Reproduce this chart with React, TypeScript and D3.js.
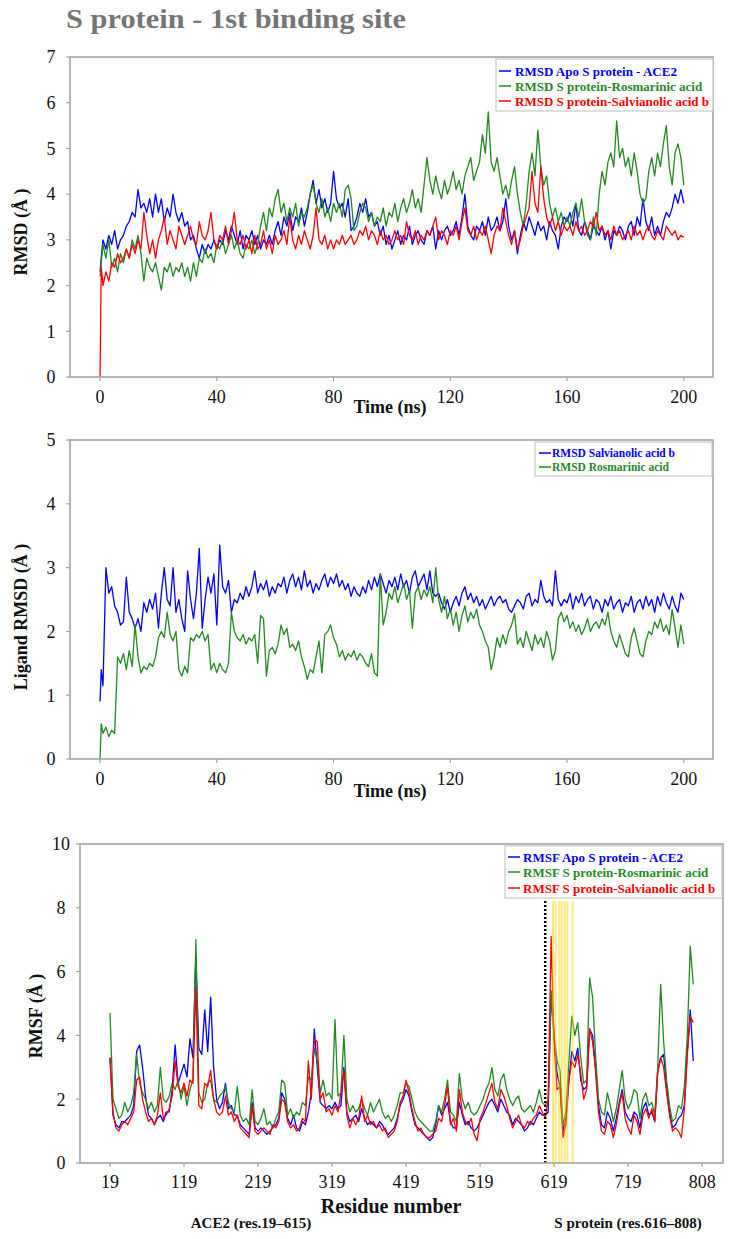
import React from "react";
import * as d3 from "d3";

const serif = "'Liberation Serif','Times New Roman',serif";
const BLUE = "#0000ff";
const GREEN = "#1f8a1f";
const RED = "#ff0000";

// ---------- Panel 1 & 2 : time axis (ns) ----------
const timeNs = [0, 0.4, ...d3.range(1, 201)];
const timeTicks = [0, 40, 80, 120, 160, 200];

const rmsdApo = [2.3, 2.6,
  3.0, 2.8, 3.1, 2.9, 3.2, 2.8, 3.0, 3.1, 3.3, 3.4,
  3.6, 3.5, 4.1, 3.7, 3.8, 3.6, 3.9, 3.5, 4.0, 3.6,
  3.9, 3.4, 3.7, 3.5, 4.0, 3.6, 3.4, 3.6, 3.3, 3.4,
  3.0, 3.1, 2.8, 2.6, 2.9, 2.7, 2.9, 2.8, 3.0, 2.8,
  3.0, 2.9, 3.2, 3.0, 3.3, 3.1, 2.9, 3.2, 2.8, 3.1,
  3.0, 3.2, 2.9, 3.1, 2.8, 3.0, 2.9, 3.1, 2.9, 3.2,
  3.4, 3.1, 3.5, 3.3, 3.6, 3.2, 3.5, 3.4, 3.7, 3.3,
  3.6, 4.0, 4.3, 3.8, 4.1, 3.7, 3.9, 3.6, 3.8, 4.5,
  3.9, 3.7, 3.8, 3.5, 3.9, 3.2, 3.3, 3.5, 3.8, 3.6,
  3.9, 3.5, 3.6, 3.3, 3.4, 3.1, 3.3, 2.9, 3.1, 2.8,
  3.0, 3.2, 2.9, 3.1, 3.0, 3.3, 2.9, 3.1, 3.2, 3.0,
  2.9, 3.2, 3.1, 3.3, 2.8, 3.2, 3.0, 3.2, 3.3, 3.1,
  3.2, 3.4, 3.1, 3.5, 4.0, 3.3, 3.1, 3.0, 3.3, 3.2,
  3.4, 3.1, 3.5, 3.2, 3.3, 3.5, 3.2, 3.4, 3.9, 3.3,
  3.0, 3.2, 2.7, 3.1, 3.4, 3.2, 3.5, 3.3, 3.1, 3.4,
  3.2, 3.3, 3.0, 3.4, 3.2, 3.1, 2.8, 3.3, 3.5, 3.4,
  3.6, 3.3, 3.8, 3.2, 3.1, 3.4, 3.2, 3.0, 3.3, 3.2,
  3.1, 3.3, 3.0, 3.2, 2.8, 3.2, 3.1, 3.3, 3.2, 3.0,
  3.3, 3.4, 3.1, 3.5, 3.3, 3.9, 3.4, 3.2, 3.5, 3.1,
  3.3, 3.1, 3.4, 3.6, 3.5, 3.7, 4.0, 3.8, 4.1, 3.8];

const rmsdRos = [2.2, 2.5,
  2.9, 2.6, 3.0, 2.4, 2.6, 2.3, 2.7, 2.5, 2.8, 2.6,
  3.0, 2.8, 3.1, 2.7, 2.1, 2.6, 2.4, 2.3, 2.5, 2.2,
  1.9, 2.4, 2.3, 2.5, 2.2, 2.4, 2.3, 2.5, 2.2, 2.4,
  2.1, 2.5, 2.2, 2.6, 2.5, 2.8, 2.6, 2.7, 2.5, 2.9,
  2.8, 3.0, 2.7, 2.9, 3.1, 2.8, 3.0, 2.7, 2.6, 2.9,
  2.8, 3.0, 2.7, 2.9, 3.3, 3.6, 3.2, 3.7, 3.5, 3.9,
  4.1, 3.6, 3.8, 3.4, 3.7, 3.5, 3.8, 3.3, 3.6, 3.5,
  3.7, 4.0, 4.2, 3.8, 3.6, 3.9, 3.5, 3.7, 3.4, 3.8,
  3.6, 3.8, 3.5, 4.1, 4.2, 3.9, 3.2, 3.3, 3.6, 3.8,
  3.7, 3.4, 3.6, 3.3, 3.5, 3.4, 3.7, 3.3, 3.6, 3.5,
  3.8, 3.4, 3.7, 3.9, 3.6, 3.8, 4.1, 3.7, 3.9, 3.6,
  4.2, 4.8, 4.3, 4.0, 4.4, 4.1, 3.9, 4.3, 4.0, 4.2,
  4.5, 4.1, 4.3, 4.0, 4.4, 4.6, 4.8, 4.3, 4.5, 4.7,
  5.3, 4.9, 5.8, 4.7, 4.5, 4.8, 4.4, 4.0, 4.2, 3.9,
  4.3, 4.6, 4.0, 3.6, 3.3, 3.8, 4.5, 4.9, 4.4, 5.4,
  4.6, 4.2, 4.4, 3.8, 3.5, 3.7, 3.4, 3.6, 3.3, 3.5,
  3.3, 3.6, 3.8, 3.5, 3.9, 3.4, 3.1, 3.0, 3.5, 3.1,
  4.0, 4.5, 4.2, 4.7, 4.9, 4.6, 5.6, 4.8, 5.0, 4.6,
  4.8, 4.4, 4.9, 4.5, 4.0, 3.8, 3.9, 4.5, 4.8, 4.4,
  4.9, 4.6, 5.1, 5.5, 4.6, 4.2, 4.9, 5.1, 4.8, 4.2];

const rmsdSal = [0, 2.4,
  2.0, 2.3, 2.1, 2.5, 2.4, 2.7, 2.5, 2.6, 2.8, 2.6,
  2.9, 2.7, 3.0, 2.8, 3.6, 3.1, 2.7, 3.0, 2.6, 3.0,
  3.2, 3.5, 2.9, 3.2, 3.0, 2.8, 3.3, 3.1, 2.9, 3.1,
  3.3, 3.0, 2.9, 3.4, 3.1, 3.0, 3.2, 3.6, 3.0, 2.8,
  3.1, 3.0, 3.3, 2.9, 3.2, 3.6, 3.0, 2.9, 3.1, 2.8,
  3.0, 2.7, 3.1, 2.8, 2.9, 3.2, 2.8, 3.0, 2.7, 3.1,
  2.9, 3.0, 3.2, 2.9, 3.5, 3.0, 2.8, 3.1, 2.9, 3.2,
  3.0, 2.8, 3.1, 3.7, 3.0, 2.9, 3.1, 2.8, 3.0, 2.8,
  3.0, 2.9, 3.1, 2.9, 3.0, 3.1, 2.9, 3.0, 3.2, 3.1,
  3.3, 3.0, 3.2, 3.1, 2.9, 3.2, 3.0, 3.1, 2.9, 3.0,
  3.2, 3.0, 3.1, 2.9, 3.4, 3.1, 3.0, 3.2, 2.9, 3.1,
  3.0, 3.2, 3.1, 3.3, 3.5, 3.0, 3.2, 3.1, 2.9, 3.2,
  3.1, 3.3, 3.0, 3.4, 3.7, 3.2, 3.1, 3.3, 3.0, 3.2,
  3.1, 3.3, 3.0, 2.7, 3.1, 3.3, 3.2, 3.7, 3.4, 3.1,
  2.9, 3.2, 2.8, 3.0, 3.3, 3.5, 3.7, 4.5, 3.8, 3.6,
  4.6, 3.9, 3.5, 3.3, 3.5, 3.2, 3.4, 3.1, 3.3, 3.2,
  3.3, 3.1, 3.4, 3.2, 3.3, 3.1, 3.2, 3.4, 3.3, 3.6,
  3.2, 3.3, 3.1, 3.2, 3.0, 3.3, 3.1, 3.2, 3.0, 3.1,
  3.2, 3.0, 3.3, 3.1, 3.2, 3.0, 3.2, 3.3, 3.1, 3.0,
  3.2, 3.1, 3.0, 3.3, 3.2, 3.1, 3.2, 3.0, 3.1, 3.05];

const ligandSal = [0.9, 1.4,
  1.15, 3.0, 2.6, 2.7, 2.4, 2.3, 2.1, 2.15, 2.85, 2.3,
  2.2, 2.05, 2.2, 2.0, 2.45, 2.3, 2.5, 2.35, 2.6, 2.05,
  2.6, 3.0, 2.5, 2.4, 3.0, 2.3, 2.5, 2.2, 2.0, 2.95,
  2.5, 2.2, 2.6, 3.3, 2.05, 2.5, 2.85, 2.6, 2.9, 2.1,
  3.35, 2.7, 2.6, 2.8, 2.3, 2.5, 2.45, 2.6, 2.5, 2.7,
  2.55, 2.7, 2.95, 2.6, 2.75, 2.65, 2.8, 2.55, 2.7, 2.6,
  2.75, 2.7, 2.85, 2.6, 2.8, 2.9, 2.7, 2.85, 2.65, 2.95,
  2.7, 2.8, 2.6, 2.75, 2.65, 2.8, 2.9, 2.7, 2.85, 2.75,
  2.9, 2.7, 2.8, 2.65, 2.75, 2.55, 2.7, 2.6, 2.55, 2.7,
  2.6, 2.8, 2.65, 2.85, 2.7, 2.9, 2.75, 2.6, 2.8, 2.7,
  2.85, 2.65, 2.9, 2.7, 2.8, 2.6, 2.85, 2.95, 2.7, 2.8,
  2.9, 2.65, 2.95, 2.6, 2.55, 2.6, 2.45, 2.35, 2.5, 2.3,
  2.45, 2.55, 2.4, 2.6, 2.7, 2.5, 2.6, 2.45, 2.55, 2.4,
  2.5, 2.35, 2.45, 2.55, 2.4, 2.5, 2.55, 2.45, 2.5, 2.35,
  2.3, 2.4, 2.5, 2.45, 2.35, 2.55, 2.6, 2.4, 2.5, 2.45,
  2.8, 2.55, 2.45, 2.5, 2.4, 2.95, 2.5, 2.4, 2.5, 2.45,
  2.6, 2.35, 2.55, 2.45, 2.6, 2.4, 2.5, 2.55, 2.35, 2.5,
  2.45, 2.3, 2.5, 2.4, 2.55, 2.35, 2.45, 2.5, 2.3, 2.45,
  2.4, 2.55, 2.3, 2.45, 2.5, 2.35, 2.55, 2.4, 2.5, 2.3,
  2.55, 2.4, 2.6, 2.45, 2.35, 2.55, 2.4, 2.3, 2.6, 2.5];

const ligandRos = [0, 0.55,
  0.4, 0.5, 0.35, 0.45, 0.4, 1.6, 1.5, 1.65, 1.4, 1.7,
  1.45, 2.1, 1.6, 1.35, 1.45, 1.4, 1.5, 1.45, 1.6, 1.9,
  2.0, 1.9, 2.3, 1.95, 1.85, 2.0, 1.4, 1.3, 1.45, 1.35,
  1.9, 1.85, 1.95, 1.9, 2.0, 1.85, 1.95, 1.4, 1.5, 1.35,
  1.5, 1.4, 1.35, 1.5, 2.3, 2.0, 1.9, 1.85, 1.95, 1.8,
  1.9, 1.85, 1.95, 1.5, 2.25, 2.2, 1.3, 1.7, 1.75, 1.65,
  1.8, 2.1, 1.95, 2.05, 1.75, 1.8, 1.7, 1.85, 1.6, 1.45,
  1.25, 1.4, 1.35, 1.6, 1.85, 1.35, 1.95, 2.0, 2.1, 1.9,
  1.8, 1.6, 1.7, 1.55, 1.65, 1.6, 1.7, 1.55, 1.65, 1.6,
  1.5, 1.45, 1.65, 1.35, 1.3, 2.9, 2.1, 2.3, 2.6, 2.5,
  2.7, 2.45, 2.6, 2.75, 2.5, 2.65, 2.05, 2.6, 2.7, 2.5,
  2.65, 2.55, 2.7, 2.45, 3.0, 2.5, 2.3, 2.55, 2.2, 2.35,
  2.1, 2.3, 2.0, 2.25, 2.4, 2.15, 2.3, 2.2, 2.35, 2.1,
  2.0, 1.85, 1.75, 1.4, 1.6, 1.9, 1.75, 1.95, 1.8, 2.0,
  2.1, 2.28, 1.8, 1.9, 1.75, 2.0, 1.85, 1.7, 1.95, 1.8,
  1.9, 1.75, 2.0, 1.85, 1.55, 1.7, 2.2, 2.3, 2.15, 2.25,
  2.05, 2.15, 2.0, 2.1, 1.95, 2.05, 2.2, 2.0, 2.1, 2.15,
  2.05, 2.2, 2.1, 2.3, 2.0, 1.85, 1.75, 1.95, 1.8, 1.65,
  1.6, 1.9, 2.05, 1.85, 1.65, 1.6, 1.85, 2.0, 1.95, 2.15,
  2.05, 2.2, 2.0, 2.1, 1.95, 2.34, 2.05, 1.75, 2.1, 1.8];

// ---------- Panel 3 : residues ----------
const residues = d3.range(19, 808, 4);
const residueTicks = [19, 119, 219, 319, 419, 519, 619, 719, 819];
const residueTickLabels = ["19", "119", "219", "319", "419", "519", "619", "719", "808"];
const boundaryResidue = 607;
const bindingResidues = [617.5, 620.9, 626.0, 629.3, 633.4, 636.9, 644.2];

const rmsfApo = [
  3.3, 1.5, 1.2, 1.1, 1.3, 1.3, 1.4, 1.5, 1.8, 3.5,
  3.7, 3.0, 2.1, 1.5, 1.4, 1.2, 1.4, 1.5, 1.3, 1.6,
  1.6, 2.3, 3.7, 2.5, 2.8, 3.1, 2.7, 3.9, 3.3, 6.5,
  3.6, 3.4, 4.8, 3.5, 5.2, 3.0, 2.0, 1.7, 1.9, 2.5,
  1.7, 1.8, 1.5, 1.5, 1.2, 1.1, 1.0, 0.9, 1.9, 1.1,
  1.0, 1.1, 1.0, 0.9, 1.0, 1.1, 1.2, 1.4, 2.2, 2.0,
  1.4, 1.2, 1.5, 1.1, 1.0, 1.3, 1.2, 1.6, 2.2, 4.2,
  3.0, 1.9, 1.8, 1.7, 1.8, 1.7, 1.9, 1.7, 1.8, 3.0,
  1.6, 1.3, 1.4, 1.5, 1.3, 1.7, 1.4, 1.2, 1.3, 1.2,
  1.1, 1.3, 1.2, 1.0, 0.9, 1.0, 1.1, 1.4, 1.8, 2.0,
  2.3, 2.1, 1.6, 1.2, 1.1, 1.0, 0.9, 0.8, 0.7, 0.8,
  1.2, 1.8, 1.5, 1.7, 1.9, 1.3, 1.1, 1.1, 1.9, 1.5,
  1.2, 1.3, 1.1, 1.0, 1.1, 1.3, 1.5, 1.7, 1.9, 2.0,
  1.8, 1.6, 2.0, 1.8, 1.6, 1.5, 1.2, 1.4, 1.3, 1.2,
  1.0, 1.1, 1.3, 1.2, 1.4, 1.6, 1.5, 1.5, 1.6, 5.3,
  3.9, 2.8, 2.4, 1.0, 1.4, 2.6, 3.5, 3.2, 3.6, 2.6,
  2.3, 2.4, 4.2, 4.0, 3.0, 1.8, 1.2, 1.1, 1.6, 1.4,
  1.0, 1.4, 1.9, 2.3, 1.6, 1.4, 1.3, 1.6, 1.5, 1.1,
  1.7, 1.9, 1.5, 1.6, 1.3, 2.9, 3.3, 3.4, 2.4, 1.6,
  1.1, 1.2, 1.4, 1.5, 1.8, 3.5, 4.8, 3.2];

const rmsfRos = [
  4.7, 2.0, 1.7, 1.4, 1.5, 1.9, 1.6, 1.8, 2.2, 3.4,
  2.5, 2.2, 2.0, 1.7, 1.9, 1.6, 1.8, 3.0, 2.0, 1.9,
  2.1, 2.5, 2.3, 2.6, 2.0, 2.4, 1.8, 2.3, 2.6, 7.0,
  2.2, 1.9, 2.0, 2.5, 2.6, 2.0, 1.9, 2.1, 2.2, 2.4,
  1.9, 1.7, 1.6, 2.4, 1.5, 1.3, 1.4, 1.2, 2.3, 1.3,
  1.2, 1.4, 1.7, 1.2, 1.3, 1.1, 1.4, 1.6, 2.6, 2.5,
  1.5, 1.7, 1.4, 1.6, 1.5, 1.9, 1.8, 2.7, 2.6, 3.6,
  3.2, 2.2, 2.6, 2.1, 2.2, 2.0, 4.5, 2.1, 2.2, 4.0,
  2.0, 1.6, 1.8, 1.6, 1.7, 2.0, 1.7, 1.5, 1.9, 1.6,
  1.8, 2.0, 1.6, 1.4, 1.5, 1.3, 1.5, 1.8, 2.2, 2.2,
  2.5, 2.4, 2.0, 1.6, 1.4, 1.3, 1.2, 1.1, 1.0, 1.0,
  1.3, 1.8, 1.6, 2.0, 2.6, 1.6, 1.5, 1.3, 2.8, 2.0,
  1.7, 1.9, 1.6, 1.5, 1.6, 1.8, 2.0, 2.3, 2.5, 3.0,
  2.3, 2.1, 2.6, 2.8, 2.3, 2.0, 1.8, 2.0, 2.1, 1.7,
  1.6, 1.7, 1.8, 1.6, 1.9, 2.3, 1.9, 1.8, 2.0, 5.4,
  4.0, 3.2, 2.9, 1.2, 1.6, 3.2, 4.6, 4.0, 4.4, 3.3,
  2.5, 2.6, 5.8, 5.2, 3.4, 2.0, 1.6, 1.5, 2.2, 1.8,
  1.3, 1.7, 2.3, 2.9, 2.0, 1.7, 1.9, 2.3, 2.2, 1.4,
  2.0, 2.2, 1.8, 1.9, 1.5, 3.0, 5.6, 3.8, 2.6, 1.8,
  1.3, 1.4, 1.8, 1.7, 2.4, 4.0, 6.8, 5.6];

const rmsfSal = [
  3.3, 1.6, 1.1, 1.0, 1.2, 1.3, 1.2, 1.4, 1.6, 2.6,
  2.7, 2.0, 1.6, 1.3, 1.4, 1.2, 1.5, 2.2, 1.4, 1.5,
  1.7, 2.1, 3.2, 2.4, 2.2, 2.5, 2.1, 2.6, 2.5, 5.5,
  1.8, 1.7, 2.5, 2.4, 2.9, 2.0, 1.6, 1.5, 1.6, 2.1,
  1.5, 1.6, 1.3, 1.5, 1.1, 1.0, 0.9, 0.8, 1.8, 1.0,
  0.9, 1.0, 1.1, 1.0, 0.9, 1.2, 1.1, 1.3, 2.0, 1.9,
  1.3, 1.1, 1.2, 1.0, 1.1, 1.4, 1.3, 3.2, 2.0, 3.9,
  3.8, 2.0, 2.2, 1.6, 1.7, 1.5, 1.8, 1.6, 2.2, 2.9,
  1.5, 1.1, 1.4, 1.2, 1.4, 2.1, 1.3, 1.5, 1.2, 1.3,
  1.1, 1.2, 1.0, 1.1, 0.8, 0.9, 1.0, 1.3, 1.9, 2.1,
  2.6, 2.2, 1.7, 1.3, 1.0, 1.1, 0.9, 0.8, 0.8, 0.9,
  1.0, 1.4, 1.3, 1.8, 2.4, 1.2, 1.4, 1.0, 2.3, 1.6,
  1.3, 1.2, 1.4, 0.9, 0.7, 1.4, 1.6, 1.9, 2.2, 2.5,
  1.9, 1.7, 2.3, 2.1, 1.8, 1.4, 1.1, 1.3, 1.5, 1.2,
  1.1, 1.3, 1.2, 1.4, 1.5, 1.8, 1.6, 1.4, 2.0, 7.1,
  3.8, 2.3, 2.4, 0.8, 1.2, 2.6, 3.2, 3.0, 3.4, 2.8,
  2.0, 2.3, 4.2, 3.8, 2.9, 1.6, 1.0, 0.9, 1.3, 1.2,
  0.8, 1.2, 1.8, 2.2, 1.4, 1.1, 0.9, 1.5, 1.3, 0.9,
  1.5, 1.7, 1.4, 1.7, 1.3, 2.8, 3.3, 3.0, 2.2, 1.5,
  1.0, 1.1, 1.0, 0.8, 1.7, 3.4, 4.6, 4.4];

type Series = { values: number[]; color: string };
type LegendItem = { label: string; color: string };

interface PanelProps {
  left: number; right: number; top: number; bottom: number;
  xDomain: [number, number]; yMax: number;
  xs: number[]; series: Series[];
  xTicks: number[]; xTickLabels: string[]; xTickBaseline: number;
  yTickX: number; yLabel: string; yLabelX: number; yLabelY: number;
  legend: LegendItem[];
  legendBox: { x: number; y: number; w: number; h: number };
  legendRows: number[]; legendLineX: number; legendTextX: number; legendFont: number;
  children?: (x: d3.ScaleLinear<number, number>, y: d3.ScaleLinear<number, number>) => React.ReactNode;
}

function Panel(p: PanelProps) {
  const x = d3.scaleLinear().domain(p.xDomain).range([p.left, p.right]);
  const y = d3.scaleLinear().domain([0, p.yMax]).range([p.bottom, p.top]);
  const yTicks = d3.range(0, p.yMax + 1, p.yMax > 7 ? 2 : 1);
  return (
    <g>
      {p.series.map((s, i) => {
        const line = d3.line<number>().x((_, j) => x(p.xs[j])).y((d) => y(d));
        return (
          <path key={i} d={line(s.values) || ""} fill="none" stroke={s.color}
            strokeWidth={1.3} strokeLinejoin="round" />
        );
      })}
      {p.children && p.children(x, y)}
      <rect x={p.left} y={p.top} width={p.right - p.left} height={p.bottom - p.top}
        fill="none" stroke="#a3a3a3" strokeWidth={1.6} />
      {yTicks.map((t) => (
        <g key={"y" + t}>
          <line x1={p.left - 4} x2={p.left} y1={y(t)} y2={y(t)} stroke="#a3a3a3" strokeWidth={1.2} />
          <text x={p.yTickX} y={y(t)} dy="0.35em" textAnchor="middle" fontFamily={serif}
            fontSize={18} fill="#111">{t}</text>
        </g>
      ))}
      {p.xTicks.map((t, i) => (
        <g key={"x" + t}>
          <line x1={x(t)} x2={x(t)} y1={p.bottom} y2={p.bottom + 4} stroke="#a3a3a3" strokeWidth={1.2} />
          <text x={x(t)} y={p.xTickBaseline} textAnchor="middle" fontFamily={serif}
            fontSize={18} fill="#111">{p.xTickLabels[i]}</text>
        </g>
      ))}
      <text transform={`translate(${p.yLabelX},${p.yLabelY}) rotate(-90)`} textAnchor="middle"
        dominantBaseline="central" fontFamily={serif} fontWeight="bold" fontSize={18} fill="#111">
        {p.yLabel}
      </text>
      <rect x={p.legendBox.x} y={p.legendBox.y} width={p.legendBox.w} height={p.legendBox.h}
        fill="#fff" stroke="#c8c8c8" strokeWidth={1.2} />
      {p.legend.map((l, i) => (
        <g key={"l" + i}>
          <line x1={p.legendLineX} x2={p.legendLineX + 12} y1={p.legendRows[i]} y2={p.legendRows[i]}
            stroke={l.color} strokeWidth={1.5} />
          <text x={p.legendTextX} y={p.legendRows[i]} dy="0.35em" fontFamily={serif} fontWeight="bold"
            fontSize={p.legendFont} fill={l.color}>{l.label}</text>
        </g>
      ))}
    </g>
  );
}

export default function App() {
  const timeLabels = timeTicks.map(String);
  return (
    <svg width={737} height={1239} style={{ position: "absolute", left: 0, top: 0, background: "#fff" }}>
      <rect x={0} y={0} width={737} height={1239} fill="#fff" />
      <text x={66} y={28} fontFamily={serif} fontWeight="bold" fontSize={28} fill="#757575"
        textLength={340} lengthAdjust="spacingAndGlyphs">
        S protein - 1st binding site
      </text>

      <Panel left={70} right={713} top={57} bottom={377} xDomain={[-10.3, 210]} yMax={7}
        xs={timeNs}
        series={[{ values: rmsdApo, color: BLUE }, { values: rmsdRos, color: GREEN }, { values: rmsdSal, color: RED }]}
        xTicks={timeTicks} xTickLabels={timeLabels} xTickBaseline={403}
        yTickX={51} yLabel="RMSD (Å )" yLabelX={21} yLabelY={232}
        legend={[
          { label: "RMSD Apo S protein - ACE2", color: BLUE },
          { label: "RMSD S protein-Rosmarinic acid", color: GREEN },
          { label: "RMSD S protein-Salvianolic acid b", color: RED },
        ]}
        legendBox={{ x: 496, y: 59, w: 217, h: 52 }} legendRows={[71, 86, 101]}
        legendLineX={499} legendTextX={515} legendFont={13}
      />
      <text x={390} y={413} textAnchor="middle" fontFamily={serif} fontWeight="bold" fontSize={18} fill="#111">Time (ns)</text>

      <Panel left={70} right={713} top={440} bottom={759} xDomain={[-10.3, 210]} yMax={5}
        xs={timeNs}
        series={[{ values: ligandSal, color: BLUE }, { values: ligandRos, color: GREEN }]}
        xTicks={timeTicks} xTickLabels={timeLabels} xTickBaseline={785}
        yTickX={51} yLabel="Ligand RMSD (Å )" yLabelX={21} yLabelY={617}
        legend={[
          { label: "RMSD Salvianolic acid b", color: BLUE },
          { label: "RMSD Rosmarinic acid", color: GREEN },
        ]}
        legendBox={{ x: 535, y: 442, w: 177, h: 34 }} legendRows={[453, 467]}
        legendLineX={539} legendTextX={552} legendFont={11.5}
      />
      <text x={390} y={797} textAnchor="middle" fontFamily={serif} fontWeight="bold" fontSize={18} fill="#111">Time (ns)</text>

      <Panel left={80} right={723} top={844} bottom={1163} xDomain={[-21.53, 847.2]} yMax={10}
        xs={residues}
        series={[{ values: rmsfApo, color: BLUE }, { values: rmsfRos, color: GREEN }, { values: rmsfSal, color: RED }]}
        xTicks={residueTicks} xTickLabels={residueTickLabels} xTickBaseline={1188}
        yTickX={61} yLabel="RMSF (Å )" yLabelX={36} yLabelY={1016}
        legend={[
          { label: "RMSF Apo S protein - ACE2", color: BLUE },
          { label: "RMSF S protein-Rosmarinic acid", color: GREEN },
          { label: "RMSF S protein-Salvianolic acid b", color: RED },
        ]}
        legendBox={{ x: 505, y: 846, w: 217, h: 52 }} legendRows={[857, 872, 888]}
        legendLineX={508} legendTextX={523} legendFont={13}
      >
        {(x) => (
          <g>
            <line x1={x(boundaryResidue)} x2={x(boundaryResidue)} y1={901} y2={1163}
              stroke="#000" strokeWidth={2.5} strokeDasharray="2,2" />
            {bindingResidues.map((r) => (
              <line key={r} x1={x(r)} x2={x(r)} y1={901} y2={1163}
                stroke="#ffd400" strokeOpacity={0.5} strokeWidth={2} />
            ))}
          </g>
        )}
      </Panel>
      <text x={391} y={1213} textAnchor="middle" fontFamily={serif} fontWeight="bold" fontSize={20} fill="#111">Residue number</text>
      <text x={251} y={1228} textAnchor="middle" fontFamily={serif} fontWeight="bold" fontSize={15} fill="#111">ACE2 (res.19–615)</text>
      <text x={628} y={1228} textAnchor="middle" fontFamily={serif} fontWeight="bold" fontSize={15} fill="#111">S protein (res.616–808)</text>
    </svg>
  );
}
